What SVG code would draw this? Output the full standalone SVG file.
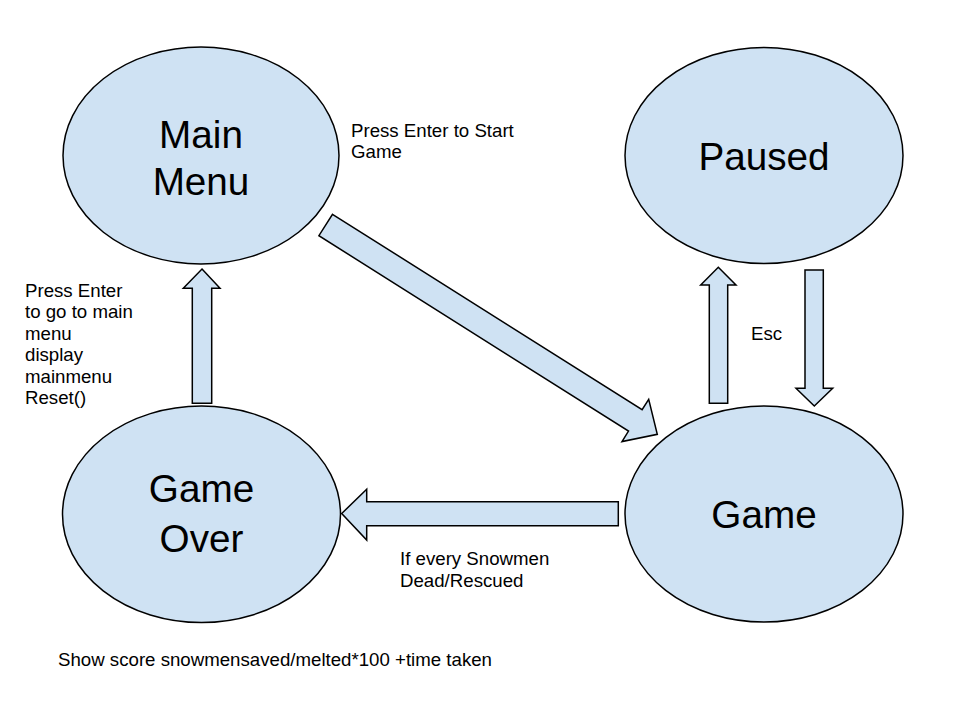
<svg xmlns="http://www.w3.org/2000/svg" width="960" height="720" viewBox="0 0 960 720">
<style>
.node{fill:#cfe2f3;stroke:#000;stroke-width:1.5}
.arrow{fill:#cfe2f3;stroke:#000;stroke-width:1.5;stroke-linejoin:miter}
.big{font-family:"Liberation Sans",Arial,sans-serif;font-size:38.67px;fill:#000;text-anchor:middle}
.small{font-family:"Liberation Sans",Arial,sans-serif;font-size:18.67px;fill:#000}
</style>
<rect width="960" height="720" fill="#fff"/>
<g id="connectors">
<polygon class="arrow" points="332.5,214.3 642.1,409.7 648.7,399.3 657.3,434.3 622,441.6 628.5,431.1 318.9,235.7"/>
<polygon class="arrow" points="202,269 220,288.3 211.7,288.3 211.7,403.3 192.3,403.3 192.3,288.3 183.3,288.3"/>
<polygon class="arrow" points="718.3,267.3 736,285 727.7,285 727.7,403.3 709.3,403.3 709.3,285 700.7,285"/>
<polygon class="arrow" points="805,270 823.3,270 823.3,388.3 832.7,388.3 814.3,406 796,388.3 805,388.3"/>
<polygon class="arrow" points="341.7,513.5 366.7,489.3 366.7,501.7 618.3,501.7 618.3,525.7 366.7,525.7 366.7,540"/>
</g>
<g id="main-menu">
<ellipse class="node" cx="201" cy="155.5" rx="138" ry="108.5"/>
<text class="big" x="201" y="148">Main</text>
<text class="big" x="201" y="195">Menu</text>
</g>
<g id="paused">
<ellipse class="node" cx="764" cy="155.5" rx="139" ry="108"/>
<text class="big" x="764" y="170">Paused</text>
</g>
<g id="game">
<ellipse class="node" cx="764" cy="514" rx="139" ry="108"/>
<text class="big" x="764" y="528">Game</text>
</g>
<g id="game-over">
<ellipse class="node" cx="201.5" cy="514.3" rx="139" ry="108.3"/>
<text class="big" x="201.5" y="502">Game</text>
<text class="big" x="201.5" y="552">Over</text>
</g>
<g id="labels">
<text class="small" x="351" y="137">Press Enter to Start</text>
<text class="small" x="351" y="158">Game</text>
<text class="small" x="751" y="340">Esc</text>
<text class="small" x="25" y="296.5">Press Enter</text>
<text class="small" x="25" y="318">to go to main</text>
<text class="small" x="25" y="339.5">menu</text>
<text class="small" x="25" y="361">display</text>
<text class="small" x="25" y="382.5">mainmenu</text>
<text class="small" x="25" y="404">Reset()</text>
<text class="small" x="400" y="565">If every Snowmen</text>
<text class="small" x="400" y="586.5">Dead/Rescued</text>
<text class="small" x="58" y="666">Show score snowmensaved/melted*100 +time taken</text>
</g>
</svg>
